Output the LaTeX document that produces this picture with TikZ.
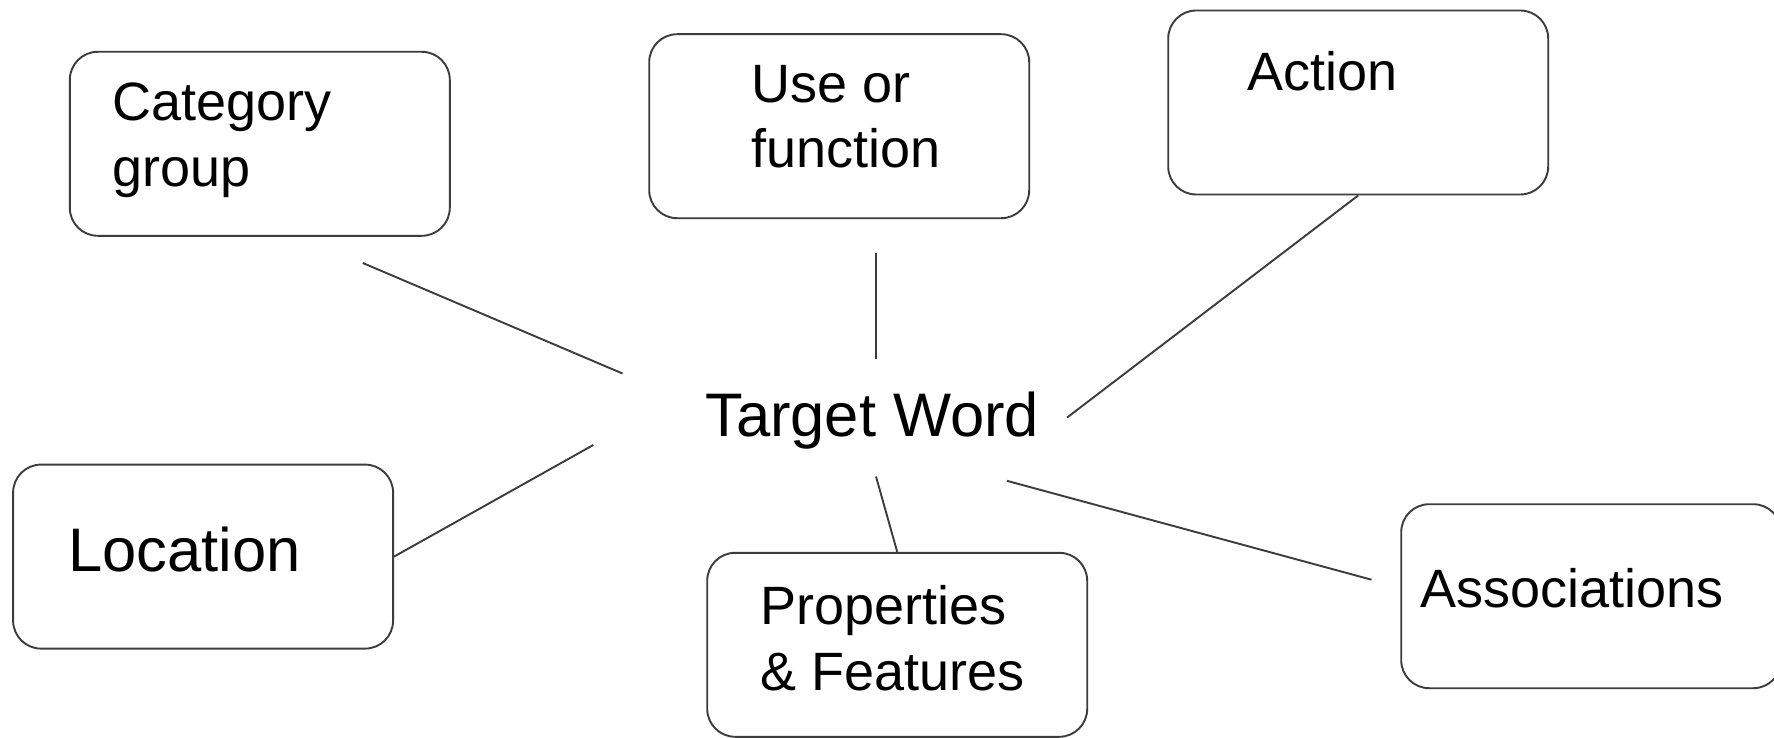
\documentclass[tikz,border=0pt]{standalone}
\usepackage{fontspec}
\setmainfont{Liberation Sans}
\definecolor{linec}{RGB}{60,60,60}
\begin{document}
\begin{tikzpicture}[x=1pt,y=-1pt,
  box/.style={draw=linec, line width=1.9pt, rounded corners=28pt, minimum width=380pt, minimum height=184pt, inner sep=0pt},
  conn/.style={draw=linec, line width=1.9pt},
  lbl/.style={font=\fontsize{54}{66}\selectfont, inner sep=0pt, anchor=base west, align=left},
  big/.style={font=\fontsize{61.5}{72}\selectfont, inner sep=0pt, anchor=base west}]
\useasboundingbox (0,0) rectangle (1774,738);
\fill[white] (0,0) rectangle (1774,738);
\clip (0,0) rectangle (1774,738);
% boxes
\node[box] (cat) at (259.8,143.8) {};
\node[box] (use) at (839.2,126.2) {};
\node[box] (act) at (1358.2,102.5) {};
\node[box] (loc) at (203.1,556.6) {};
\node[box] (prop) at (897.2,644.8) {};
\node[box] (ass) at (1591.2,596.2) {};
% texts (base anchor = baseline of the last line)
\node[lbl] (catT) at (112,186) {Category\\group};
\node[lbl] (useT) at (751,168) {Use or\\function};
\node[lbl] (actT) at (1247,91) {Action};
\node[big] (locT) at (68,571) {Location};
\node[lbl] (propT) at (760,690) {Properties\\\& Features};
\node[lbl] (assT) at (1420,607) {Associations};
\node[big] (tw) at (705,436) {Target Word};
% free ends
\coordinate (c1a) at (362.8,263);
\coordinate (c1b) at (622.5,373.5);
\coordinate (c2a) at (876,253);
\coordinate (c2b) at (876,358.5);
\coordinate (c3b) at (1067,417.6);
\coordinate (c4a) at (593.3,445);
\coordinate (c5a) at (876,476.5);
\coordinate (c6a) at (1006.9,480.8);
\coordinate (c6b) at (1371.5,579.7);
% connectors
\draw[conn] (c1a) -- (c1b);
\draw[conn] (c2a) -- (c2b);
\draw[conn] (act.south) -- (c3b);
\draw[conn] (c4a) -- (loc.east);
\draw[conn] (c5a) -- (prop.north);
\draw[conn] (c6a) -- (c6b);
\end{tikzpicture}
\end{document}
